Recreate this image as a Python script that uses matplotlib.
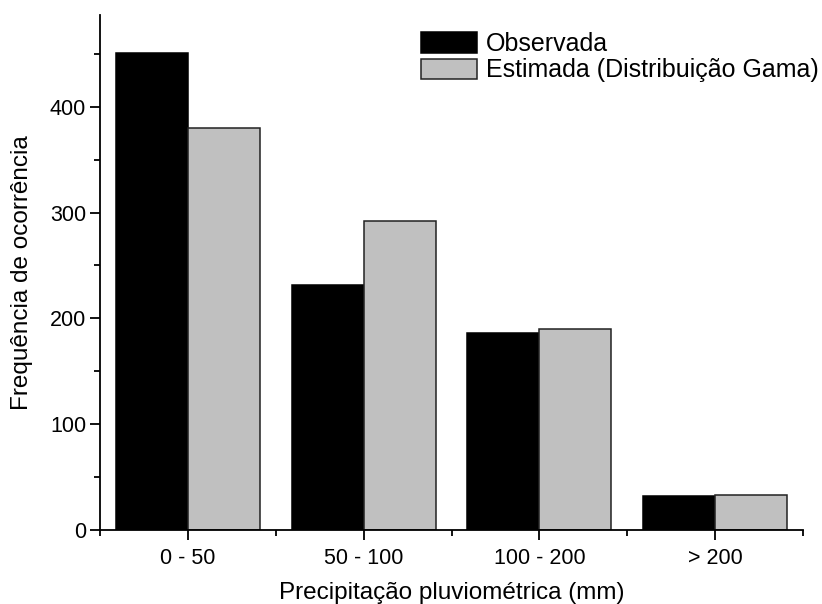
import matplotlib
matplotlib.use("Agg")
import matplotlib.pyplot as plt
from matplotlib.ticker import MultipleLocator, FixedLocator
import numpy as np

plt.rcParams['font.family'] = ['Liberation Sans', 'DejaVu Sans']

categories = ["0 - 50", "50 - 100", "100 - 200", "> 200"]
observada = [451, 231, 186, 32]
estimada = [380, 292, 190, 33]
series_names = ["Observada", "Estimada (Distribuição Gama)"]

fig = plt.figure(figsize=(8.22, 6.04), dpi=100)
ax = fig.add_axes([100/822, 1 - 529.5/604, (803-100)/822, (529.5-15)/604])

x = np.arange(len(categories))
w = 0.41
ax.bar(x - w, observada, width=w, align='edge', color='black', edgecolor='black',
       linewidth=1.1, label=series_names[0])
ax.bar(x, estimada, width=w, align='edge', color='#c0c0c0', edgecolor='#222222',
       linewidth=1.1, label=series_names[1])

ax.set_xlim(-0.5, 3.5)
ax.set_ylim(0, 487)
ax.spines['top'].set_visible(False)
ax.spines['right'].set_visible(False)
ax.spines['left'].set_linewidth(1.3)
ax.spines['bottom'].set_linewidth(1.3)

ax.set_xticks(x)
ax.set_xticklabels(categories)
ax.xaxis.set_minor_locator(FixedLocator(np.arange(-0.5, 3.6, 1.0)))
ax.yaxis.set_major_locator(MultipleLocator(100))
ax.yaxis.set_minor_locator(MultipleLocator(50))
ax.tick_params(axis='x', which='major', direction='out', length=7, width=1.3,
               labelsize=15.5, pad=6)
ax.tick_params(axis='y', which='major', direction='out', length=7, width=1.3,
               labelsize=15.5, pad=3)
ax.tick_params(axis='both', which='minor', direction='out', length=4, width=1.3)

ax.set_xlabel("Precipitação pluviométrica (mm)", fontsize=17.5, labelpad=10)
ax.set_ylabel("Frequência de ocorrência", fontsize=17.5, labelpad=12)

leg = ax.legend(loc='upper left', bbox_to_anchor=(421/822, 1 - 32/604),
                bbox_transform=fig.transFigure, frameon=False, fontsize=18,
                handlelength=2.25, handleheight=0.9, handletextpad=0.33,
                labelspacing=0.1, borderpad=0, borderaxespad=0)

fig.savefig("out.png", dpi=100)
